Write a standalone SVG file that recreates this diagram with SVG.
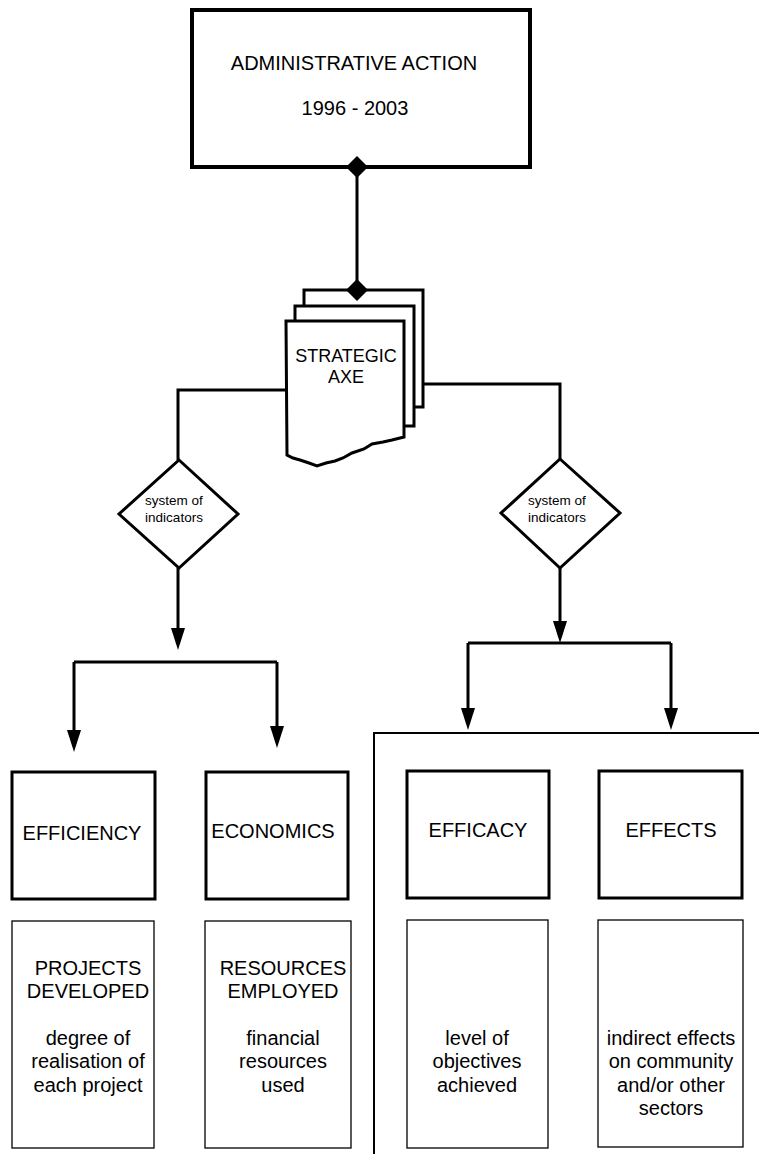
<svg xmlns="http://www.w3.org/2000/svg" width="759" height="1154" viewBox="0 0 759 1154">
<defs>
<style>
text{font-family:"Liberation Sans",Arial,sans-serif;fill:#000;text-anchor:middle}
.big{font-size:20px}
.mid{font-size:18px}
.small{font-size:13.5px}
.thick{fill:#fff;stroke:#000;stroke-width:3}
.thin{fill:#fff;stroke:#000;stroke-width:1.3}
.conn{fill:none;stroke:#000;stroke-width:3}
.conn2{fill:none;stroke:#000;stroke-width:2}
</style>
<marker id="arrow" markerUnits="userSpaceOnUse" markerWidth="22" markerHeight="14" viewBox="0 0 22 14" refX="16" refY="7" orient="auto">
<path d="M0,0 L22,7 L0,14 z" fill="#000"/>
</marker>
<marker id="dia" markerUnits="userSpaceOnUse" markerWidth="22" markerHeight="22" viewBox="0 0 22 22" refX="11" refY="11" orient="auto">
<path d="M11,0 L22,11 L11,22 L0,11 z" fill="#000"/>
</marker>
</defs>
<rect width="759" height="1154" fill="#fff"/>

<g id="admin-action">
<rect x="192" y="10" width="338" height="157" fill="#fff" stroke="#000" stroke-width="4"/>
<text class="big" x="354" y="70">ADMINISTRATIVE ACTION</text>
<text class="big" x="355" y="115">1996 - 2003</text>
</g>

<g id="strategic-axe">
<rect class="thick" x="304" y="290" width="119" height="117"/>
<rect class="thick" x="295" y="306" width="119" height="120"/>
<path class="thick" d="M286,321 L404,321 L404,437 L392,440 L383,442 L372,444 L364,449 L352,453 L343,458 L335,461 L326,463 L317,466 L309,463 L300,460 L293,458 L287,455 Z"/>
<text class="mid" x="346" y="362">STRATEGIC</text>
<text class="mid" x="346" y="383">AXE</text>
</g>

<g id="indicators-left">
<path class="thick" d="M179,460 L238,514 L179,568 L119,514 Z"/>
<text class="small" x="174" y="505">system of</text>
<text class="small" x="174" y="522">indicators</text>
</g>

<g id="indicators-right">
<path class="thick" d="M560,459 L620,513 L560,568 L501,513 Z"/>
<text class="small" x="557" y="505">system of</text>
<text class="small" x="557" y="522">indicators</text>
</g>

<g id="efficiency">
<rect class="thick" x="12" y="772" width="143" height="127"/>
<text class="big" x="82" y="840">EFFICIENCY</text>
</g>
<g id="economics">
<rect class="thick" x="206" y="772" width="142" height="127"/>
<text class="big" x="273" y="838">ECONOMICS</text>
</g>
<g id="efficacy">
<rect class="thick" x="407" y="771" width="142" height="127"/>
<text class="big" x="478" y="837">EFFICACY</text>
</g>
<g id="effects">
<rect class="thick" x="599" y="771" width="143" height="127"/>
<text class="big" x="671" y="837">EFFECTS</text>
</g>

<g id="projects-developed">
<rect class="thin" x="12" y="921" width="142" height="227"/>
<text class="big" x="88" y="975">PROJECTS</text>
<text class="big" x="88" y="998">DEVELOPED</text>
<text class="big" x="88" y="1045">degree of</text>
<text class="big" x="88" y="1068">realisation of</text>
<text class="big" x="88" y="1092">each project</text>
</g>
<g id="resources-employed">
<rect class="thin" x="205" y="921" width="146" height="227"/>
<text class="big" x="283" y="975">RESOURCES</text>
<text class="big" x="283" y="998">EMPLOYED</text>
<text class="big" x="283" y="1045">financial</text>
<text class="big" x="283" y="1068">resources</text>
<text class="big" x="283" y="1092">used</text>
</g>
<g id="objectives">
<rect class="thin" x="407" y="920" width="141" height="228"/>
<text class="big" x="477" y="1045">level of</text>
<text class="big" x="477" y="1068">objectives</text>
<text class="big" x="477" y="1092">achieved</text>
</g>
<g id="indirect-effects">
<rect class="thin" x="598" y="920" width="145" height="227"/>
<text class="big" x="671" y="1045">indirect effects</text>
<text class="big" x="671" y="1068">on community</text>
<text class="big" x="671" y="1092">and/or other</text>
<text class="big" x="671" y="1115">sectors</text>
</g>

<g id="connectors">
<path class="conn" d="M357,167 L357,290" marker-start="url(#dia)" marker-end="url(#dia)"/>
<path class="conn" d="M286,390 L178,390 L178,460"/>
<path class="conn" d="M423,384 L560,384 L560,459"/>
<path class="conn" d="M178,568 L178,644" marker-end="url(#arrow)"/>
<path class="conn" d="M74,662 L277,662"/>
<path class="conn" d="M74,662 L74,746" marker-end="url(#arrow)"/>
<path class="conn" d="M277,662 L277,742" marker-end="url(#arrow)"/>
<path class="conn" d="M560,568 L560,637" marker-end="url(#arrow)"/>
<path class="conn" d="M468,643 L671,643"/>
<path class="conn" d="M468,643 L468,724" marker-end="url(#arrow)"/>
<path class="conn" d="M671,643 L671,724" marker-end="url(#arrow)"/>
<path class="conn2" d="M374,1154 L374,733 L759,733"/>
</g>
</svg>
